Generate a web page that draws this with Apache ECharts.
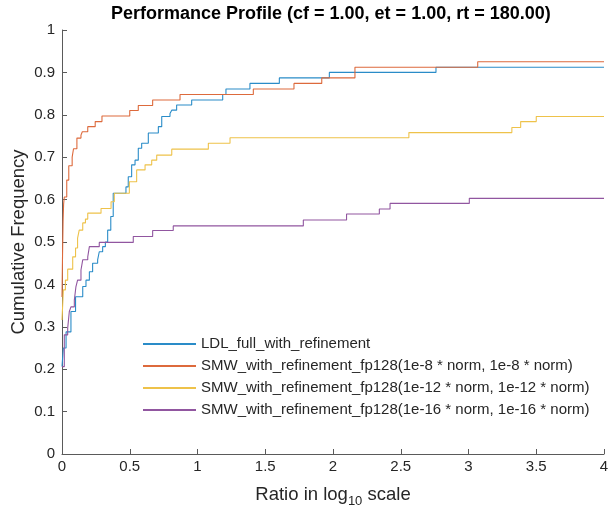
<!DOCTYPE html>
<html>
<head>
<meta charset="utf-8">
<script src="https://cdn.jsdelivr.net/npm/echarts@6/dist/echarts.min.js"></script>
<style>
  html, body { margin: 0; padding: 0; background: #fff; }
  #chart { width: 610px; height: 511px; }
</style>
</head>
<body>
<div id="chart"></div>
<script>
// series names (legend order)
var names = [
  'LDL_full_with_refinement',
  'SMW_with_refinement_fp128(1e-8 * norm, 1e-8 * norm)',
  'SMW_with_refinement_fp128(1e-12 * norm, 1e-12 * norm)',
  'SMW_with_refinement_fp128(1e-16 * norm, 1e-16 * norm)'
];

// step points: x = log10 ratio, y = cumulative frequency
var ldlX = [0, 0.01, 0.03, 0.066, 0.1, 0.153, 0.177, 0.202, 0.226, 0.263, 0.275, 0.3, 0.32, 0.337, 0.36, 0.378,
  0.472, 0.489, 0.514, 0.539, 0.563, 0.588, 0.637, 0.711, 0.736, 0.797, 0.81, 0.846, 0.957, 1.186, 1.21, 1.387,
  1.604, 1.973, 2.76, 4];
var ldlY = [0.206, 0.25, 0.288, 0.336, 0.371, 0.395, 0.41, 0.43, 0.45, 0.458, 0.477, 0.489, 0.5, 0.528, 0.56, 0.615,
  0.63, 0.654, 0.682, 0.693, 0.721, 0.733, 0.757, 0.772, 0.796, 0.803, 0.811, 0.823, 0.835, 0.848, 0.861, 0.874,
  0.887, 0.9, 0.912, 0.912];

var smw8X = [0, 0.004, 0.008, 0.012, 0.017, 0.035, 0.05, 0.075, 0.085, 0.11, 0.14, 0.15, 0.19, 0.245, 0.295,
  0.5, 0.563, 0.669, 0.871, 1.412, 1.712, 1.917, 2.162, 3.068, 4];
var smw8Y = [0.37, 0.47, 0.55, 0.59, 0.606, 0.646, 0.68, 0.7, 0.72, 0.745, 0.752, 0.76, 0.772, 0.784, 0.797,
  0.81, 0.822, 0.835, 0.848, 0.861, 0.874, 0.887, 0.912, 0.925, 0.925];

var smw12X = [0, 0.01, 0.025, 0.042, 0.079, 0.1, 0.115, 0.127, 0.153, 0.173, 0.19, 0.288, 0.362, 0.386, 0.497,
  0.551, 0.613, 0.662, 0.699, 0.81, 1.08, 1.24, 2.56, 3.32, 3.385, 3.5, 4];
var smw12Y = [0.316, 0.387, 0.41, 0.436, 0.465, 0.486, 0.509, 0.528, 0.545, 0.554, 0.568, 0.579, 0.595, 0.615, 0.642,
  0.67, 0.682, 0.693, 0.705, 0.719, 0.733, 0.746, 0.758, 0.77, 0.784, 0.796, 0.796];

var smw16X = [0, 0.017, 0.042, 0.054, 0.066, 0.091, 0.103, 0.115, 0.14, 0.153, 0.19, 0.202, 0.275, 0.526, 0.669,
  0.821, 1.781, 2.1, 2.342, 2.421, 3.006, 4];
var smw16Y = [0.206, 0.281, 0.297, 0.336, 0.347, 0.363, 0.395, 0.41, 0.434, 0.458, 0.465, 0.489, 0.499, 0.513, 0.527,
  0.538, 0.552, 0.566, 0.578, 0.591, 0.603, 0.603];

var colors = ['#2a8cc8', '#dd6a3c', '#eec24a', '#9156a0'];
var font = '"Liberation Sans", Arial, sans-serif';

function pairs(xs, ys) {
  return xs.map(function (x, i) { return [x, ys[i]]; });
}

var allX = [ldlX, smw8X, smw12X, smw16X];
var allY = [ldlY, smw8Y, smw12Y, smw16Y];

var chart = echarts.init(document.getElementById('chart'), null, { renderer: 'canvas' });

var axisCommon = {
  axisLine: { show: true, lineStyle: { color: '#5a5a5a', width: 1 } },
  axisTick: { show: true, inside: true, length: 5, lineStyle: { color: '#5a5a5a' } },
  splitLine: { show: false },
  nameMoveOverlap: false
};

var option = {
  backgroundColor: '#fff',
  animation: false,
  color: colors,
  title: {
    text: 'Performance Profile (cf = 1.00, et = 1.00, rt = 180.00)',
    left: 106,
    top: 0,
    textStyle: { fontSize: 18, fontWeight: 'bold', color: '#000', fontFamily: font }
  },
  // keep the plot box fixed, labels may sit outside it
  grid: { left: 62, right: 6, top: 30, bottom: 57, containLabel: false, outerBoundsMode: 'none' },
  legend: {
    orient: 'vertical',
    left: 138,
    top: 331,
    itemWidth: 53,
    itemHeight: 2,
    itemGap: 6,
    icon: 'rect',
    textStyle: { fontSize: 15, color: '#262626', fontFamily: font, lineHeight: 16 },
    data: names
  },
  xAxis: Object.assign({}, axisCommon, {
    type: 'value',
    min: 0,
    max: 4,
    interval: 0.5,
    name: 'Ratio in log{s|10} scale',
    nameLocation: 'middle',
    nameGap: 27,
    nameTextStyle: {
      fontSize: 18.5, color: '#262626', fontFamily: font,
      rich: {
        s: { fontSize: 13, fontFamily: font, color: '#262626', padding: [14, 0, 0, 0] }
      }
    },
    axisLabel: { color: '#262626', fontSize: 15, fontFamily: font, margin: 5 }
  }),
  yAxis: Object.assign({}, axisCommon, {
    type: 'value',
    min: 0,
    max: 1,
    interval: 0.1,
    name: 'Cumulative Frequency',
    nameLocation: 'middle',
    nameGap: 34,
    nameTextStyle: { fontSize: 18.5, color: '#262626', fontFamily: font },
    axisLabel: { color: '#262626', fontSize: 15, fontFamily: font, margin: 7 }
  }),
  series: names.map(function (n, i) {
    return {
      name: n,
      type: 'line',
      step: 'end',
      symbol: 'none',
      lineStyle: { width: 1.1, color: colors[i] },
      itemStyle: { color: colors[i] },
      data: pairs(allX[i], allY[i])
    };
  })
};

chart.setOption(option);
</script>
</body>
</html>
